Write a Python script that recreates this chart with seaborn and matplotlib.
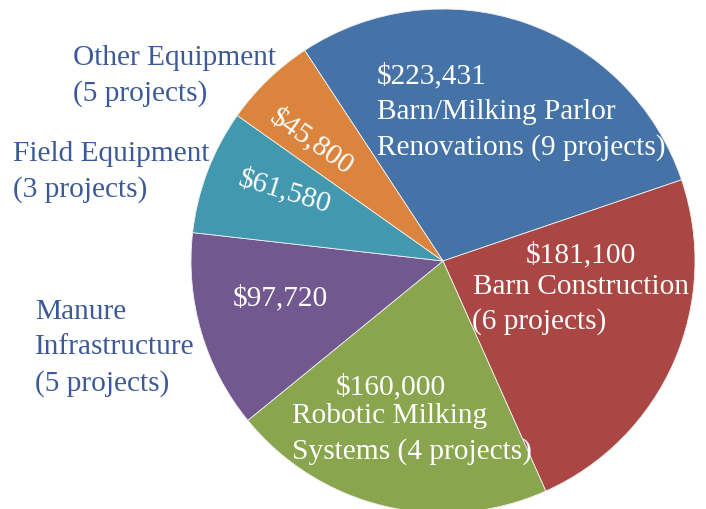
import matplotlib
matplotlib.use("Agg")
import matplotlib.pyplot as plt
import seaborn as sns

# Data
categories = ["Barn/Milking Parlor Renovations", "Barn Construction", "Robotic Milking Systems",
              "Manure Infrastructure", "Field Equipment", "Other Equipment"]
amounts = [223431, 181100, 160000, 97720, 61580, 45800]
projects = [9, 6, 4, 5, 3, 5]
colors = ["#4572A7", "#AA4643", "#89A54E", "#71588F", "#4198AF", "#DB843D"]

sns.set_theme(style="white")
plt.rcParams["font.family"] = ["Liberation Serif", "DejaVu Serif"]

W, H = 706, 510
fig = plt.figure(figsize=(W / 100, H / 100), dpi=100)
ax = fig.add_axes([0, 0, 1, 1])

# pie in pixel coordinates (y flipped)
ax.pie(amounts, colors=sns.color_palette(colors), startangle=123.3, counterclock=False,
       center=(443, H - 262), radius=252, frame=True,
       wedgeprops=dict(edgecolor="#f0f0f0", linewidth=0.6))
ax.set_xlim(0, W)
ax.set_ylim(0, H)
ax.set_aspect("equal")
ax.axis("off")

fs = 21.2
white = "white"
label_col = "#3D5A98"
ls = 1.45

def fmt(v):
    return f"${v:,}"

def t(x, y, s, **kw):
    kw.setdefault("fontsize", fs)
    kw.setdefault("va", "center")
    kw.setdefault("linespacing", ls)
    ax.text(x, H - y - 3, s, **kw)

# inside labels
t(377, 109, f"{fmt(amounts[0])}\nBarn/Milking Parlor\nRenovations ({projects[0]} projects)",
  color=white, ha="left")
t(581, 252, fmt(amounts[1]), color=white, ha="center")
t(581, 284, "Barn Construction", color=white, ha="center")
t(472, 319, f"({projects[1]} projects)", color=white, ha="left")
t(391, 384, fmt(amounts[2]), color=white, ha="center")
t(292, 431, f"Robotic Milking\nSystems ({projects[2]} projects)", color=white, ha="left")
t(280, 295, fmt(amounts[3]), color=white, ha="center")
t(285, 189, fmt(amounts[4]), color=white, ha="center", rotation=-17, rotation_mode="anchor")
t(312, 139, fmt(amounts[5]), color=white, ha="center", rotation=-35, rotation_mode="anchor")

# outside labels
t(73, 73, f"Other Equipment\n({projects[5]} projects)", color=label_col, ha="left")
t(13, 169, f"Field Equipment\n({projects[4]} projects)", color=label_col, ha="left")
t(35, 345, f"Manure\nInfrastructure\n({projects[3]} projects)", color=label_col, ha="left")

fig.savefig("out.png", dpi=100)
